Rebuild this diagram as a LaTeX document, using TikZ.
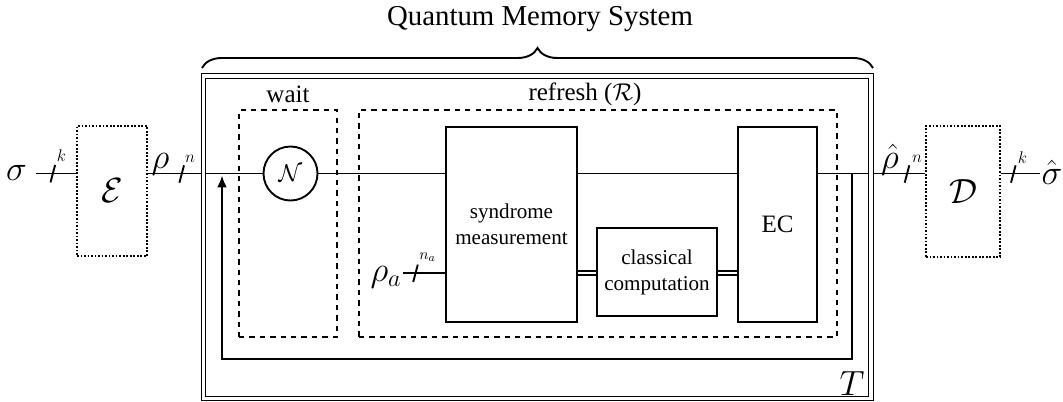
\documentclass[tikz,border=0pt]{standalone}
\usepackage{fontspec}
\setmainfont{Liberation Serif}
\newfontfamily\tmsfont{Liberation Serif}
\usetikzlibrary{arrows.meta,calc,decorations.pathreplacing,shapes.geometric}
\begin{document}
\begin{tikzpicture}[x=0.025cm,y=-0.025cm,
  ln/.style={line width=1.35pt},
  box/.style={draw,line width=1.35pt,rectangle,inner sep=0pt,align=center},
  dotbox/.style={draw,line width=1.3pt,dash pattern=on 1.3pt off 1.2pt,inner sep=0pt},
  dashbox/.style={draw,line width=1.3pt,dash pattern=on 3.8pt off 3.6pt,inner sep=0pt},
  mlbl/.style={font=\fontsize{24}{28}\selectfont,inner sep=0pt},
  biglbl/.style={font=\fontsize{26}{30}\selectfont,inner sep=0pt},
  small/.style={font=\fontsize{12.5}{14}\selectfont,inner sep=0pt},
  txt/.style={font=\tmsfont\fontsize{17.8}{21}\selectfont,inner sep=0pt},
  boxtxt/.style={font=\tmsfont\fontsize{15}{18.5}\selectfont},
  slashline/.style={line width=1.35pt},
  dbl/.style={draw,double,line width=0.8pt,double distance=2pt}]
\useasboundingbox (0,0) rectangle (1063,401);

% title and brace
\node[font=\tmsfont\fontsize{20.5}{24}\selectfont,inner sep=0pt] (qms) at (540,19) {Quantum Memory System};
\coordinate (brL) at (202,68);
\coordinate (brR) at (873,68);
\draw[ln,decorate,decoration={brace,amplitude=0.5cm}] (brL) -- (brR);

% encoder / decoder
\node[dotbox,minimum width=1.75cm,minimum height=3.25cm,biglbl] (E) at (112,191) {$\mathcal{E}$};
\node[dotbox,minimum width=1.85cm,minimum height=3.275cm,biglbl] (D) at (963,191.5) {$\mathcal{D}$};

% wait / refresh
\node[dashbox,minimum width=2.45cm,minimum height=5.675cm] (wait) at (288,223.5) {};
\node[dashbox,minimum width=11.95cm,minimum height=5.675cm] (refr) at (598,223.5) {};
\node[txt] (waitl) at (288,94) {wait};
\node[txt] (refrl) at (585,94) {refresh ($\mathcal{R}$)};

% noise
\node[circle,draw,line width=1.35pt,minimum size=1.35cm,inner sep=0pt,font=\fontsize{19}{22}\selectfont] (N) at (290.5,173.5) {$\mathcal{N}$};

% blocks
\node[box,boxtxt,minimum width=3.275cm,minimum height=4.875cm] (synd) at (511.5,224.5) {syndrome\\measurement};
\node[box,boxtxt,minimum width=3cm,minimum height=2.2cm] (cc) at (657,272) {classical\\computation};
\node[box,txt,minimum width=1.975cm,minimum height=4.875cm] (ec) at (777.5,224.5) {EC};

% labels
\node[mlbl] (sig) at (16.5,172.5) {$\sigma$};
\node[mlbl] (rho) at (160.5,164) {$\rho$};
\node[mlbl] (rhoa) at (386,277) {$\rho_a$};
\node[mlbl] (rhoh) at (890,160) {$\hat{\rho}$};
\node[mlbl] (sigh) at (1052,172) {$\hat{\sigma}$};
\node[mlbl] (T) at (852,383.5) {$T$};
\node[small] (k1) at (61.5,156) {$k$};
\node[small] (n1) at (190,159) {$n$};
\node[font=\fontsize{11}{13}\selectfont,inner sep=0pt] (na) at (427.5,257) {$n_a$};
\node[small] (n2) at (917,159) {$n$};
\node[small] (k2) at (1022.5,158) {$k$};

% wires
\coordinate (wy) at (0,173.5);
\coordinate (sigw) at (36,173.5);
\coordinate (sighw) at (1040,173.5);
\coordinate (rhoaw) at (403,273);
\coordinate (cy) at (0,273);
\draw[ln] (sigw) -- (sigw -| E.west);
\draw[ln] (E.east |- wy) -- (N.west);
\draw[ln] (N.east) -- (synd.west |- wy);
\draw[ln] (synd.east |- wy) -- (ec.west |- wy);
\draw[ln] (ec.east |- wy) -- (D.west |- wy);
\draw[ln] (D.east |- wy) -- (sighw);
\draw[ln] (rhoaw) -- (synd.west |- rhoaw);
\draw[dbl] (synd.east |- cy) -- (cc.west |- cy);
\draw[dbl] (cc.east |- cy) -- (ec.west |- cy);

% slashes
\foreach \sx/\sy in {52.8/173.7, 181.7/174, 415.5/273.3, 907/174, 1013.3/174} {
  \coordinate (s) at (\sx,\sy);
  \draw[slashline] ($(s)+(-2.3,8.7)$) -- ($(s)+(2.3,-8.7)$);
}

% feedback loop
\coordinate (fbR) at (852,173.5);
\coordinate (fbBR) at (852,359);
\coordinate (fbBL) at (222,359);
\coordinate (fbT) at (222,175.5);
\draw[ln,-{Latex[length=8.5pt,width=7pt]}] (fbR) -- (fbBR) -- (fbBL) -- (fbT);

% memory system double box
\node[draw,double,line width=0.85pt,double distance=2.3pt,inner sep=0pt,minimum width=16.6875cm,minimum height=8.0625cm] (mem) at (537.25,237.25) {};
\end{tikzpicture}
\end{document}
